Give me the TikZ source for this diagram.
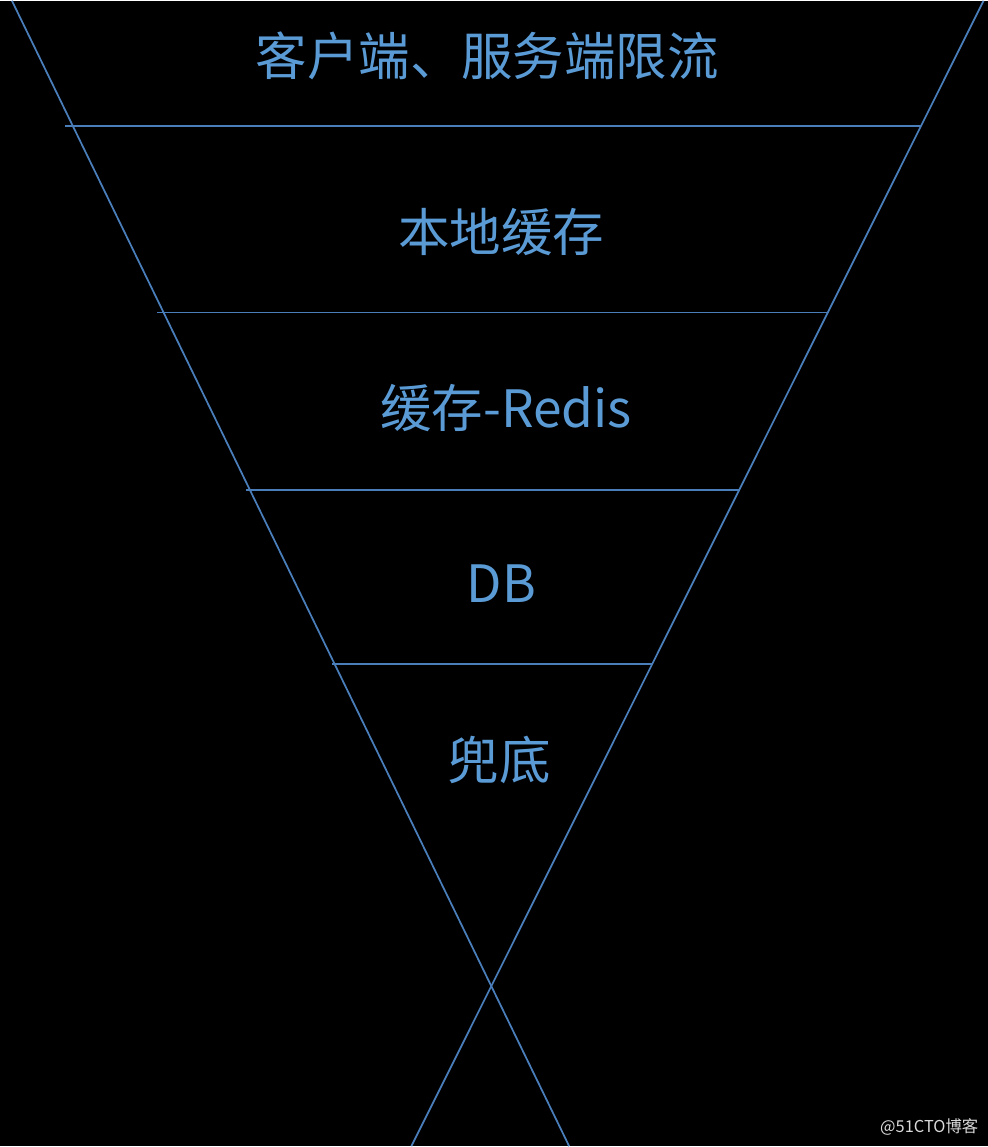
\documentclass[tikz,border=0pt]{standalone}
\usepackage{fontspec}
\setmainfont{Noto Sans CJK SC}
\usetikzlibrary{positioning}

\definecolor{funnelblue}{RGB}{74,126,187}
\definecolor{labelblue}{RGB}{91,155,213}

\begin{document}
\begin{tikzpicture}[x=0.03cm, y=-0.03cm,
    edgeline/.style = {draw=funnelblue, line width=1.5pt},
    layer/.style = {text=labelblue, font=\fontsize{44}{50}\selectfont, inner sep=0pt}]

% background
\fill[black] (0,0) rectangle (989,1147);

% end points of the two crossing lines
\coordinate (L-top) at (12,0);
\coordinate (L-bot) at (570,1147);
\coordinate (R-top) at (985,0);
\coordinate (R-bot) at (412,1147);

\draw[edgeline] (L-top) -- (L-bot);
\draw[edgeline] (R-top) -- (R-bot);

% layer borders
\foreach \y / \xl / \xr in {125/65/922, 312/157/830, 490/246/740, 664/333/653}
{
    \coordinate (A-\y) at (\xl,\y);
    \coordinate (B-\y) at (\xr,\y);
    \draw[edgeline] (A-\y) -- (B-\y);
}

% layer labels
\node[layer] (client) at (488,55) {客户端、服务端限流};
\node[layer] (local)  at (502,231) {本地缓存};
\node[layer] (redis)  at (507,408) {缓存-Redis};
\node[layer] (db)     at (502,584) {DB};
\node[layer] (fall)   at (500,760) {兜底};

% watermark
\node[text=white!85!black, font=\fontsize{14}{16}\selectfont, anchor=east, inner sep=0pt]
    (mark) at (980,1128) {@51CTO博客};

\end{tikzpicture}
\end{document}
